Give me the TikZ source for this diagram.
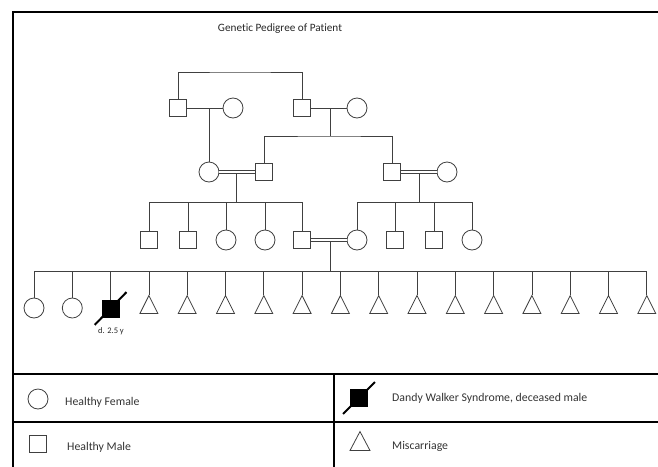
\documentclass[tikz,border=0pt]{standalone}
\usepackage{fontspec}
\setmainfont{Carlito}[Ligatures = NoCommon]
\usetikzlibrary{shapes.geometric}
\tikzset{
    male/.style = {draw = black!75, line width = 0.8pt, rectangle, minimum size = 17pt, inner sep = 0pt},
    female/.style = {draw = black!75, line width = 0.8pt, circle, minimum size = 20pt, inner sep = 0pt},
    loss/.style = {draw = black!75, line width = 0.8pt, isosceles triangle, isosceles triangle stretches, shape border rotate = 90, minimum width = 18pt, minimum height = 18pt, inner sep = 0pt},
    affected/.style = {male, fill = black, draw = black},
    line/.style = {black!75, line width = 0.8pt},
    mating/.style = {black!75, line width = 0.7pt, double, double distance = 2.4pt},
    deceased/.style = {black, line width = 2pt},
    frame/.style = {black, line width = 2.5pt},
    legend_text/.style = {anchor = west, inner sep = 0pt, text = black!80, font = \fontsize{11.8}{13}\selectfont}
}

\begin{document}
\begin{tikzpicture}[x = 1pt, y = -1pt]
            \useasboundingbox (0, 0) rectangle (658, 466);
            \clip (0, 0) rectangle (658, 466);

            \draw[frame](13, 470) -- (13, 12) -- (670, 12);
            \draw[frame, line width = 2pt](13, 374) -- (670, 374);
            \draw[frame, line width = 2pt](13, 422) -- (670, 422);
            \draw[frame, line width = 2pt](334, 374) -- (334, 470);

            \node[text = black!85, font = \fontsize{11.2}{13}\selectfont] (title) at (280, 29) {Genetic Pedigree of Patient};

            \node[male] (g1_m1) at (178, 108) {};
            \node[female] (g1_f1) at (233, 108) {};
            \node[male] (g1_m2) at (302, 108) {};
            \node[female] (g1_f2) at (357, 108) {};
            \coordinate (g1_sibs) at (240, 72);
            \draw[line](g1_m1.north) |- (g1_sibs) -| (g1_m2.north);
            \draw[line](g1_m1) -- (g1_f1);
            \draw[line](g1_m2) -- (g1_f2);

            \node[female] (g2_f1) at (209, 172) {};
            \node[male] (g2_m1) at (264, 172) {};
            \node[male] (g2_m2) at (392, 172) {};
            \node[female] (g2_f2) at (447, 172) {};
            \coordinate (g2_sibs) at (330, 136);
            \draw[line](g2_f1.north) -- (g2_f1.north |- g1_m1);
            \draw[line](g2_sibs |- g1_m2) -- (g2_sibs);
            \draw[line](g2_m1.north) |- (g2_sibs) -| (g2_m2.north);

            \coordinate (g3_lsibs) at (236, 202);
            \coordinate (g3_rsibs) at (419, 202);
            \draw[line](g3_lsibs |- g2_f1) -- (g3_lsibs);
            \draw[line](g3_rsibs |- g2_m2) -- (g3_rsibs);
            \draw[mating](g2_f1) -- (g2_m1);
            \draw[mating](g2_m2) -- (g2_f2);

            \foreach \x/\kind/\id in {149/male/1, 188/male/2, 226/female/3, 265/female/4, 302/male/5} {
                \node[\kind] (g3_\id) at (\x, 240) {};
                \draw[line](g3_\id.north) |- (g3_lsibs);
            }
            \foreach \x/\kind/\id in {357/female/6, 395/male/7, 434/male/8, 472/female/9} {
                \node[\kind] (g3_\id) at (\x, 240) {};
                \draw[line](g3_\id.north) |- (g3_rsibs);
            }

            \coordinate (g4_sibs) at (330, 271);
            \draw[line](g4_sibs |- g3_5) -- (g4_sibs);
            \draw[mating](g3_5) -- (g3_6);

            \node[female] (g4_1) at (34, 308) {};
            \node[female] (g4_2) at (72.3, 308) {};
            \node[affected] (g4_3) at (110.6, 309) {};
            \foreach \i in {4, ..., 17} {
                \node[loss] (g4_\i) at ({34 + 38.3 * (\i - 1)}, 308) {};
            }
            \foreach \i in {1, ..., 17} {
                \draw[line](g4_\i.north) |- (g4_sibs);
            }
            \draw[deceased]([shift = {(-7, 7)}]g4_3.south west) -- ([shift = {(7, -8)}]g4_3.north east);
            \node[text = black!85, font = \fontsize{8.5}{10}\selectfont] (g4_3_age) at (111, 331) {d. 2.5 y};

            \node[female] (key_female) at (38, 399) {};
            \node[legend_text] (key_female_text) at (65, 402) {Healthy Female};
            \node[male] (key_male) at (38, 444) {};
            \node[legend_text] (key_male_text) at (67, 447) {Healthy Male};
            \node[affected] (key_affected) at (359, 398) {};
            \draw[deceased]([shift = {(-7, 7)}]key_affected.south west) -- ([shift = {(7, -7)}]key_affected.north east);
            \node[legend_text] (key_affected_text) at (392, 398) {Dandy Walker Syndrome, deceased male};
            \node[loss, minimum width = 20pt, minimum height = 19pt] (key_loss) at (360, 444.5) {};
            \node[legend_text] (key_loss_text) at (392, 446) {Miscarriage};
        \end{tikzpicture}
\end{document}
